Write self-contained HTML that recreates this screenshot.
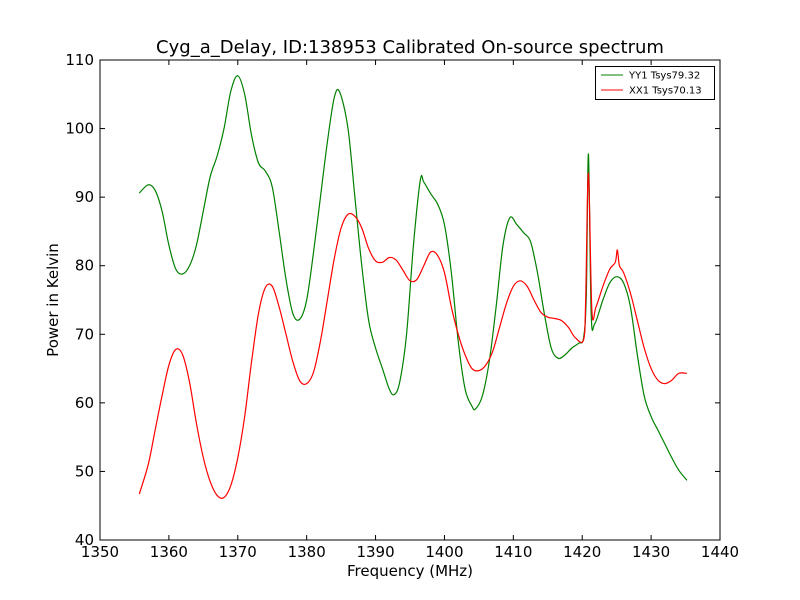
<!DOCTYPE html>
<html><head><meta charset="utf-8"><style>
body{margin:0;background:#fff}
svg{display:block;font-family:"DejaVu Sans","Liberation Sans",sans-serif}
</style></head><body>
<svg id="chart" width="800" height="600">
<rect width="800" height="600" fill="#fff"/>
<text x="410" y="53" font-size="18" text-anchor="middle">Cyg_a_Delay, ID:138953 Calibrated On-source spectrum</text>
<g id="ticks"></g>
<g id="series"></g>
<rect x="100" y="60" width="620" height="480" fill="none" stroke="#000" stroke-width="1"/>
<text x="410" y="576" font-size="15" text-anchor="middle">Frequency (MHz)</text>
<text x="58" y="300" font-size="15" text-anchor="middle" transform="rotate(-90 58 300)">Power in Kelvin</text>
<g>
<rect x="595.5" y="66.5" width="119" height="33" fill="#fff" stroke="#000"/>
<line x1="601" y1="75" x2="623" y2="75" stroke="green"/>
<text x="629" y="78.5" font-size="10">YY1 Tsys79.32</text>
<line x1="601" y1="90" x2="623" y2="90" stroke="red"/>
<text x="629" y="93.5" font-size="10">XX1 Tsys70.13</text>
</g>
</svg>
<script>
const xTicks=[1350,1360,1370,1380,1390,1400,1410,1420,1430,1440];
const yTicks=[40,50,60,70,80,90,100,110];
const yyFreq=[1355.7,1357,1358,1359,1360,1361,1362,1363,1364,1365,1366,1367,1368,1369,1370,1371,1372,1373,1374,1375,1376,1377,1378,1379,1380,1381,1382,1383,1384,1384.8,1386,1387,1388,1389,1390,1391,1392,1392.7,1393.5,1394.5,1395.5,1396.5,1397,1398,1399,1400,1401,1402,1403,1404,1404.5,1405.5,1406.5,1407.5,1408.5,1409.5,1410.5,1411.5,1412.5,1413.5,1414.5,1415.5,1416.5,1417.5,1418.5,1419.5,1420.2,1420.6,1420.9,1421.3,1421.8,1423,1424,1425,1426,1427,1428,1429,1430,1431,1432,1433,1434,1435.2];
const yyPower=[90.6,91.8,91,88,83,79.5,78.8,80,83,88,93,96,100,105.5,107.7,105,99,95,93.8,91.5,85,78,73,72.2,75,82,90,98,104.5,105.3,100,90,80,72,68,65,62,61.2,63,70,83,92.5,92.2,90.5,89,86,79,69,62,59.5,59.1,61,66,74,83,87,86,84.8,83.5,79,73,68,66.5,67,68,68.7,69.5,76,96.3,73,71.5,75,77.5,78.4,77.5,74,67,61,58,56,54,52,50.2,48.7];
const xxFreq=[1355.7,1357,1358,1359,1360,1361,1362,1363,1364,1365,1366,1367,1368,1369,1370,1371,1372,1373,1374,1375,1376,1377,1378,1379,1380,1381,1382,1383,1384,1385,1386,1387,1388,1389,1390,1391,1392,1393,1394,1395,1396,1397,1398,1399,1400,1401,1402,1403,1404,1405,1406,1407,1408,1409,1410,1411,1412,1413,1414,1415,1416,1417,1418,1419,1420.2,1420.5,1420.9,1421.4,1422,1423,1424,1424.8,1425.1,1425.4,1426,1427,1428,1429,1430,1431,1432,1433,1434,1435.2];
const xxPower=[46.7,51,56,61,65.5,67.8,67,63,57,52,48.5,46.5,46.2,48,52,58,66,73,76.8,77,74,70,66,63.2,62.8,64.5,69,75,81,85.5,87.5,87.2,85.5,82.5,80.7,80.5,81.2,80.8,79.3,77.8,78,80,82,81.5,79,74,70,67,65,64.7,65.5,67.5,71,74.5,77,77.8,77,75,73.2,72.5,72.3,72,71,69.5,69.2,75,93.5,73.5,74,77,79.5,80.5,82.3,80,79,76,72,68,65,63.3,62.8,63.3,64.3,64.3];
const NS='http://www.w3.org/2000/svg';
const X=v=>100+(v-1350)/90*620;
const Y=v=>540-(v-40)/70*480;
function mk(tag,attrs,parent){const e=document.createElementNS(NS,tag);for(const k in attrs)e.setAttribute(k,attrs[k]);parent.appendChild(e);return e;}
function smooth(p){let d='M'+p[0][0]+','+p[0][1];
 for(let i=0;i<p.length-1;i++){const p0=p[i-1]||p[i],p1=p[i],p2=p[i+1],p3=p[i+2]||p2;
  const c1=[p1[0]+(p2[0]-p0[0])/6,p1[1]+(p2[1]-p0[1])/6],c2=[p2[0]-(p3[0]-p1[0])/6,p2[1]-(p3[1]-p1[1])/6];
  d+=' C'+c1[0]+','+c1[1]+' '+c2[0]+','+c2[1]+' '+p2[0]+','+p2[1];}
 return d;}
const tg=document.getElementById('ticks');
xTicks.forEach(t=>{const x=X(t);
 mk('line',{x1:x,y1:540,x2:x,y2:535,stroke:'#000'},tg);
 mk('line',{x1:x,y1:60,x2:x,y2:65,stroke:'#000'},tg);
 const tx=mk('text',{x:x,y:557,'font-size':15,'text-anchor':'middle'},tg);tx.textContent=t;
 
 });
yTicks.forEach(t=>{const y=Y(t);
 mk('line',{x1:100,y1:y,x2:105,y2:y,stroke:'#000'},tg);
 mk('line',{x1:720,y1:y,x2:715,y2:y,stroke:'#000'},tg);
 const tx=mk('text',{x:94,y:y+5,'font-size':15,'text-anchor':'end'},tg);tx.textContent=t;
 
 });
const sg=document.getElementById('series');
const g=mk('path',{d:smooth(yyFreq.map((f,i)=>[X(f),Y(yyPower[i])])),fill:'none',stroke:'green','stroke-width':1.2},sg);


const r=mk('path',{d:smooth(xxFreq.map((f,i)=>[X(f),Y(xxPower[i])])),fill:'none',stroke:'red','stroke-width':1.2},sg);


</script>
</body></html>
